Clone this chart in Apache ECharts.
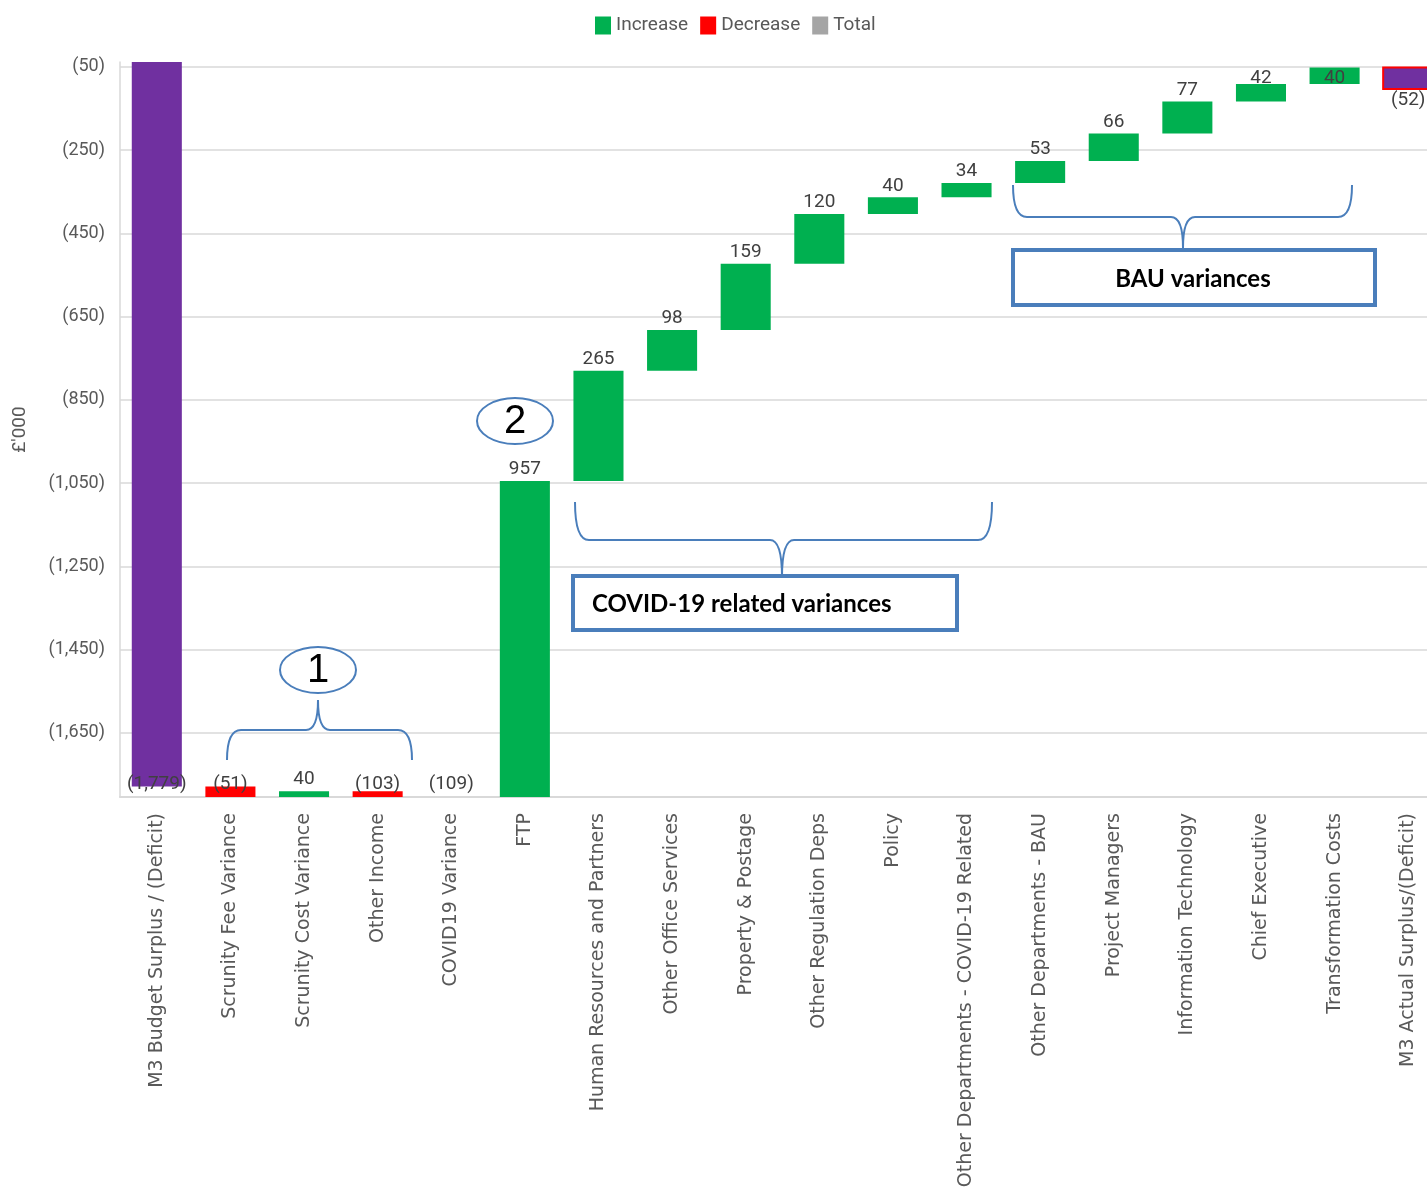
<!DOCTYPE html>
<html><head><meta charset="utf-8">
<script src="https://cdn.jsdelivr.net/npm/echarts@6/dist/echarts.min.js"></script>
<style>html,body{margin:0;padding:0;background:#fff}#c{width:1427px;height:1192px}</style>
</head><body><div id="c"></div>
<script>
// ---- data ----
const categories = [
  'M3 Budget Surplus / (Deficit)', 'Scrunity Fee Variance', 'Scrunity Cost Variance', 'Other Income',
  'COVID19 Variance', 'FTP', 'Human Resources and Partners', 'Other Office Services',
  'Property & Postage', 'Other Regulation Deps', 'Policy', 'Other Departments - COVID-19 Related',
  'Other Departments - BAU', 'Project Managers', 'Information Technology', 'Chief Executive',
  'Transformation Costs', 'M3 Actual Surplus/(Deficit)'
];
const changes = [-1779, -51, 40, -103, -109, 957, 265, 98, 159, 120, 40, 34, 53, 66, 77, 42, 40, -52];
const kinds = ['total', 'decrease', 'increase', 'decrease', 'decrease',
  'increase', 'increase', 'increase', 'increase', 'increase', 'increase', 'increase',
  'increase', 'increase', 'increase', 'increase', 'increase', 'closing'];
const yTicks = [-50, -250, -450, -650, -850, -1050, -1250, -1450, -1650];
const legendNames = ['Increase', 'Decrease', 'Total'];

// ---- styles ----
const fillOf = { increase: '#00B050', decrease: '#FF0000', total: '#7030A0', closing: '#7030A0' };
const strokeOf = { increase: null, decrease: null, total: null, closing: '#FF0000' };
const legendColors = ['#00B050', '#FF0000', '#A5A5A5'];
const kindIndex = ['increase', 'decrease', 'total', 'closing'];

function fmt(v) {
  const s = Math.abs(v).toLocaleString('en-US');
  return v < 0 ? '(' + s + ')' : s;
}

// build waterfall segments
let running = 0;
const segs = changes.map((c, i) => {
  const start = kinds[i] === 'total' ? 0 : running;
  const end = start + c;
  running = end;
  return [i, Math.min(start, end), Math.max(start, end), kindIndex.indexOf(kinds[i]), c];
});

const LABEL_FONT = '"Liberation Sans Narrow", "Roboto", sans-serif';

function renderItem(params, api) {
  const i = api.value(0), lo = api.value(1), hi = api.value(2);
  const kind = kindIndex[api.value(3)], c = api.value(4);
  const cs = params.coordSys;
  const pLo = api.coord([i, lo]), pHi = api.coord([i, hi]);
  const bw = api.size([1, 0])[0] * 0.68;
  const x = pLo[0] - bw / 2;
  const top = Math.max(pHi[1], cs.y), bot = Math.min(pLo[1], cs.y + cs.height);
  const children = [];
  if (bot > top) {
    const st = { fill: fillOf[kind] };
    if (strokeOf[kind]) { st.stroke = strokeOf[kind]; st.lineWidth = 2; }
    children.push({ type: 'rect', shape: { x: x, y: top, width: bw, height: bot - top }, style: st });
  }
  const LH = 22;
  let ly, va;
  if (c > 0) {
    ly = pHi[1] - 2; va = 'bottom';
    if (ly - LH < cs.y) ly = cs.y + LH + 4;
  } else {
    ly = pLo[1] + 2; va = 'top';
    if (ly + LH > cs.y + cs.height) ly = cs.y + cs.height - LH;
  }
  children.push({ type: 'text', z2: 10, style: {
    x: pLo[0], y: ly, text: fmt(c), fill: '#404040',
    font: '19px ' + LABEL_FONT, align: 'center', verticalAlign: va } });
  return { type: 'group', children: children };
}

const blue = '#4a7ebb';
const lineSt = { stroke: blue, lineWidth: 2, fill: null };
function q(x1, y1, cx, cy, x2, y2) {
  return { type: 'bezierCurve', z: 100, shape: { x1: x1, y1: y1, cpx1: cx, cpy1: cy, x2: x2, y2: y2 }, style: lineSt };
}
function ln(x1, y1, x2, y2) {
  return { type: 'line', z: 100, shape: { x1: x1, y1: y1, x2: x2, y2: y2 }, style: lineSt };
}
// brace: ends at (xl, yEnd) and (xr, yEnd), bar at yBar, tip at (xm, yTip)
function brace(xl, xm, xr, yEnd, yBar, yTip) {
  const r = 14, s = 12;
  return [
    q(xl, yEnd, xl, yBar, xl + r, yBar),
    ln(xl + r, yBar, xm - s, yBar),
    q(xm - s, yBar, xm, yBar, xm, yTip),
    q(xm, yTip, xm, yBar, xm + s, yBar),
    ln(xm + s, yBar, xr - r, yBar),
    q(xr - r, yBar, xr, yBar, xr, yEnd)
  ];
}

const chart = echarts.init(document.getElementById('c'), null, { renderer: 'canvas' });
chart.setOption({
  animation: false,
  backgroundColor: '#fff',
  grid: { left: 120, width: 1325, top: 62, height: 735, containLabel: false, outerBoundsMode: 'none' },
  legend: {
    left: 590, top: 11, itemWidth: 16, itemHeight: 18, itemGap: 12, icon: 'rect',
    textStyle: { fontSize: 19, color: '#595959', fontFamily: LABEL_FONT },
    data: legendNames
  },
  xAxis: {
    type: 'category', data: categories,
    axisTick: { show: false },
    axisLine: { lineStyle: { color: '#d9d9d9', width: 2 } },
    axisLabel: { rotate: 90, interval: 0, margin: 16, fontSize: 19, color: '#595959', fontFamily: '"DejaVu Sans", sans-serif' }
  },
  yAxis: {
    type: 'value', min: -1804, max: -38,
    name: "£'000", nameLocation: 'middle', nameGap: 90,
    nameTextStyle: { fontSize: 19, color: '#595959', fontFamily: LABEL_FONT },
    axisLine: { show: true, lineStyle: { color: '#d9d9d9', width: 1.5 } },
    axisTick: { show: false, customValues: yTicks },
    axisLabel: { customValues: yTicks, formatter: fmt, fontSize: 18, color: '#595959', margin: 15, fontFamily: LABEL_FONT },
    splitLine: { show: true, lineStyle: { color: '#d9d9d9', width: 1.5 } }
  },
  series: [
    { type: 'custom', renderItem: renderItem, data: segs, encode: { x: 0, y: [1, 2] }, clip: false, z: 3 },
    { name: legendNames[0], type: 'bar', data: [], itemStyle: { color: legendColors[0] } },
    { name: legendNames[1], type: 'bar', data: [], itemStyle: { color: legendColors[1] } },
    { name: legendNames[2], type: 'bar', data: [], itemStyle: { color: legendColors[2] } }
  ],
  graphic: [].concat(
    brace(227, 318, 412, 760, 730, 700),
    [
      { type: 'ellipse', z: 100, shape: { cx: 318, cy: 670, rx: 38, ry: 23 }, style: { stroke: blue, lineWidth: 2, fill: '#fff' } },
      { type: 'text', z: 101, style: { x: 318, y: 671, text: '1', font: '40px "Liberation Sans", sans-serif', fill: '#000', align: 'center', verticalAlign: 'middle' } },
      { type: 'ellipse', z: 100, shape: { cx: 515, cy: 421, rx: 38, ry: 23 }, style: { stroke: blue, lineWidth: 2, fill: '#fff' } },
      { type: 'text', z: 101, style: { x: 515, y: 422, text: '2', font: '40px "Liberation Sans", sans-serif', fill: '#000', align: 'center', verticalAlign: 'middle' } }
    ],
    brace(575, 782, 992, 502, 540, 577),
    [
      { type: 'rect', z: 100, shape: { x: 573, y: 576, width: 384, height: 54 }, style: { stroke: blue, lineWidth: 4, fill: '#fff' } },
      { type: 'text', z: 101, style: { x: 592, y: 604, text: 'COVID-19 related variances', font: 'bold 24px Lato, sans-serif', fill: '#000', align: 'left', verticalAlign: 'middle' } }
    ],
    brace(1013, 1183, 1352, 185, 217, 248),
    [
      { type: 'rect', z: 100, shape: { x: 1013, y: 250, width: 362, height: 55 }, style: { stroke: blue, lineWidth: 4, fill: '#fff' } },
      { type: 'text', z: 101, style: { x: 1193, y: 279, text: 'BAU variances', font: 'bold 24px Lato, sans-serif', fill: '#000', align: 'center', verticalAlign: 'middle' } }
    ]
  )
});
</script>
</body></html>
